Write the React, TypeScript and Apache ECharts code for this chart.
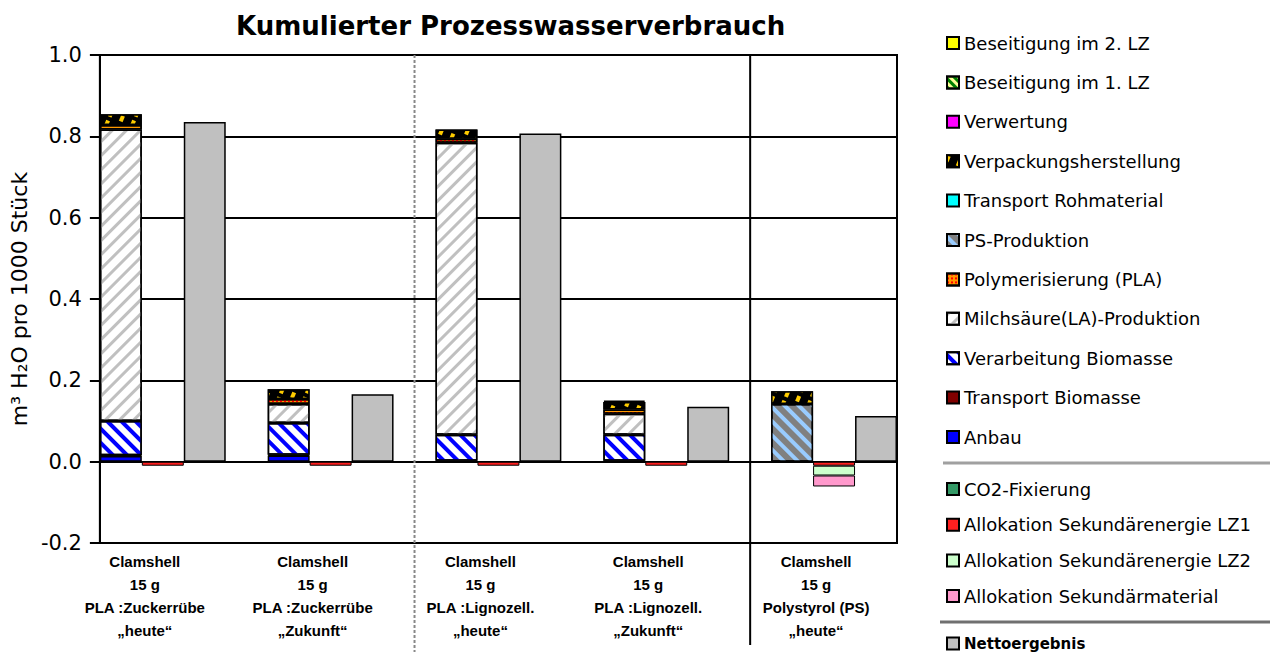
import React, { useEffect, useRef } from 'react';
import * as echarts from 'echarts';

// ---------- data ----------
const groupLabels = [
  'Clamshell\n15 g\nPLA :Zuckerrübe\n„heute“',
  'Clamshell\n15 g\nPLA :Zuckerrübe\n„Zukunft“',
  'Clamshell\n15 g\nPLA :Lignozell.\n„heute“',
  'Clamshell\n15 g\nPLA :Lignozell.\n„Zukunft“',
  'Clamshell\n15 g\nPolystyrol (PS)\n„heute“',
];

// positive contributions (stack order bottom -> top)
const anbau = [0.014, 0.015, 0, 0, 0];
const transportBiomasse = [0.002, 0.002, 0.002, 0.002, 0];
const verarbeitungBiomasse = [0.084, 0.078, 0.064, 0.064, 0];
const milchsaeure = [0.717, 0.047, 0.718, 0.052, 0];
const polymerisierung = [0.011, 0.012, 0.010, 0.010, 0];
const psProduktion = [0, 0, 0, 0, 0.142];
const transportRohmaterial = [0, 0, 0, 0, 0];
const verpackung = [0.026, 0.024, 0.023, 0.019, 0.031];
const verwertung = [0, 0, 0, 0.003, 0];
const beseitigung1 = [0, 0, 0, 0, 0];
const beseitigung2 = [0, 0, 0, 0, 0];

// credits (negative)
const co2Fixierung = [0, 0, 0, 0, 0];
const allokEnergieLZ1 = [-0.01, -0.01, -0.01, -0.01, -0.01];
const allokEnergieLZ2 = [0, 0, 0, 0, -0.024];
const allokMaterial = [0, 0, 0, 0, -0.027];

// net result
const netto = [0.835, 0.166, 0.807, 0.135, 0.112];

// ---------- helpers ----------
const SLOTS_PER_GROUP = 4; // stacked, credits, net, gap
const slotNames: string[] = [];
groupLabels.forEach((_, g) => {
  slotNames.push(`g${g}a`, `g${g}b`, `g${g}c`);
  if (g < groupLabels.length - 1) slotNames.push(`gap${g}`);
});

const toSlots = (values: number[], k: number) => {
  const arr: (number | null)[] = slotNames.map(() => null);
  values.forEach((v, g) => {
    arr[g * SLOTS_PER_GROUP + k] = v === 0 ? null : v;
  });
  return arr;
};

const stripe = (color: string, rotation: number, w: number, gap: number) => ({
  symbol: 'rect',
  symbolSize: 1,
  color,
  dashArrayX: [1, 0],
  dashArrayY: [w, gap],
  rotation,
});

const FONT = "'DejaVu Sans', Arial, sans-serif";
const LABEL_FONT = "'Liberation Sans Narrow', 'Arial Narrow', 'Liberation Sans', Arial, sans-serif";

type Def = {
  name: string;
  values: number[];
  slot: number;
  color: string;
  decal?: any;
};

const defs: Def[] = [
  { name: 'Anbau', values: anbau, slot: 0, color: '#0000ff' },
  { name: 'Transport Biomasse', values: transportBiomasse, slot: 0, color: '#800000' },
  { name: 'Verarbeitung Biomasse', values: verarbeitungBiomasse, slot: 0, color: '#ffffff', decal: stripe('#0000ff', Math.PI / 4, 3.5, 6) },
  { name: 'Milchsäure(LA)-Produktion', values: milchsaeure, slot: 0, color: '#ffffff', decal: stripe('#c0c0c0', -Math.PI / 4, 3, 7) },
  { name: 'Polymerisierung (PLA)', values: polymerisierung, slot: 0, color: '#ff9900', decal: { symbol: 'rect', symbolSize: 1, color: '#ff0000', dashArrayX: [2, 2], dashArrayY: [2, 2], rotation: 0 } },
  { name: 'PS-Produktion', values: psProduktion, slot: 0, color: '#808080', decal: stripe('#99ccff', Math.PI / 4, 4, 6) },
  { name: 'Transport Rohmaterial', values: transportRohmaterial, slot: 0, color: '#00ffff' },
  { name: 'Verpackungsherstellung', values: verpackung, slot: 0, color: '#000000', decal: { symbol: 'rect', symbolSize: 1, color: '#ffcc00', dashArrayX: [4, 8], dashArrayY: [6, 4], rotation: Math.PI / 8 } },
  { name: 'Verwertung', values: verwertung, slot: 0, color: '#ff00ff' },
  { name: 'Beseitigung im 1. LZ', values: beseitigung1, slot: 0, color: '#ffff99', decal: stripe('#008000', Math.PI / 4, 3, 3) },
  { name: 'Beseitigung im 2. LZ', values: beseitigung2, slot: 0, color: '#ffff00' },
  { name: 'CO2-Fixierung', values: co2Fixierung, slot: 1, color: '#339966' },
  { name: 'Allokation Sekundärenergie LZ1', values: allokEnergieLZ1, slot: 1, color: '#ff2020' },
  { name: 'Allokation Sekundärenergie LZ2', values: allokEnergieLZ2, slot: 1, color: '#ccffcc' },
  { name: 'Allokation Sekundärmaterial', values: allokMaterial, slot: 1, color: '#ff99cc' },
  { name: 'Nettoergebnis', values: netto, slot: 2, color: '#c0c0c0' },
];

const legendTop = [
  'Beseitigung im 2. LZ',
  'Beseitigung im 1. LZ',
  'Verwertung',
  'Verpackungsherstellung',
  'Transport Rohmaterial',
  'PS-Produktion',
  'Polymerisierung (PLA)',
  'Milchsäure(LA)-Produktion',
  'Verarbeitung Biomasse',
  'Transport Biomasse',
  'Anbau',
];
const legendCredits = [
  'CO2-Fixierung',
  'Allokation Sekundärenergie LZ1',
  'Allokation Sekundärenergie LZ2',
  'Allokation Sekundärmaterial',
];

export default function App() {
  const ref = useRef<HTMLDivElement>(null);
  useEffect(() => {
    const chart = echarts.init(ref.current!, null, { renderer: 'svg' });
    const series = defs.map((d) => ({
      name: d.name,
      type: 'bar',
      stack: 'all',
      barWidth: '100%',
      barGap: '0%',
      data: toSlots(d.values, d.slot),
      itemStyle: {
        color: d.color,
        borderColor: '#000',
        borderWidth: d.slot === 1 ? 1 : 1.5,
        ...(d.decal ? { decal: d.decal } : {}),
      },
      emphasis: { disabled: true },
    }));
    const legendBase = {
      orient: 'vertical',
      left: 941,
      itemWidth: 12,
      itemHeight: 12,
      icon: 'rect',
      selectedMode: false,
      textStyle: { fontFamily: FONT, fontSize: 18, color: '#000' },
    };
    const option: any = {
      animation: false,
      backgroundColor: '#fff',
      title: {
        text: 'Kumulierter Prozesswasserverbrauch',
        left: 231,
        top: 8,
        textStyle: { fontFamily: FONT, fontSize: 26, fontWeight: 'bold', color: '#000' },
      },
      grid: {
        left: 96,
        right: 375,
        top: 55,
        bottom: 109,
        show: true,
        borderColor: '#000',
        borderWidth: 2,
        backgroundColor: 'transparent',
      },
      xAxis: {
        type: 'category',
        data: slotNames,
        axisLine: { show: false, onZero: false },
        axisTick: { show: false },
        axisLabel: {
          interval: 0,
          formatter: (_: string, idx: number) =>
            idx % SLOTS_PER_GROUP === 1 ? groupLabels[Math.floor(idx / SLOTS_PER_GROUP)] : '',
          fontFamily: LABEL_FONT,
          fontWeight: 'bold',
          fontSize: 15,
          lineHeight: 23,
          color: '#000',
          margin: 7,
          padding: [0, 36, 0, 0],
        },
        splitLine: { show: false },
      },
      yAxis: {
        type: 'value',
        min: -0.2,
        max: 1.0,
        interval: 0.2,
        name: 'm³ H₂O pro 1000 Stück',
        nameLocation: 'middle',
        nameRotate: 90,
        nameGap: 60,
        nameTextStyle: { fontFamily: FONT, fontSize: 22, color: '#000' },
        axisLine: { show: true, lineStyle: { color: '#000', width: 2 } },
        axisTick: { show: true, inside: false, length: 10, lineStyle: { color: '#000', width: 2 } },
        axisLabel: {
          formatter: (v: number) => v.toFixed(1),
          fontFamily: FONT,
          fontSize: 21,
          color: '#000',
          margin: 18,
        },
        splitLine: { show: true, lineStyle: { color: '#000', width: 2 } },
      },
      legend: [
        { ...legendBase, top: 29, itemGap: 21.4, data: legendTop },
        { ...legendBase, top: 475, itemGap: 17.7, data: legendCredits },
        {
          ...legendBase,
          top: 631,
          data: ['Nettoergebnis'],
          textStyle: { fontFamily: FONT, fontSize: 15, fontWeight: 'bold', color: '#000' },
        },
      ],
      series,
    };
    chart.setOption(option);

    const xA = chart.convertToPixel({ xAxisIndex: 0 }, slotNames[7]) as number;
    const xB = chart.convertToPixel({ xAxisIndex: 0 }, slotNames[15]) as number;
    const yTop = chart.convertToPixel({ yAxisIndex: 0 }, 1.0) as number;
    chart.setOption({
      graphic: [
        {
          type: 'line',
          shape: { x1: xA, y1: yTop, x2: xA, y2: 652 },
          style: { stroke: '#888', lineWidth: 2, lineDash: [3, 2] },
          z: 10,
        },
        {
          type: 'line',
          shape: { x1: xB, y1: yTop, x2: xB, y2: 645 },
          style: { stroke: '#000', lineWidth: 2 },
          z: 10,
        },
        {
          type: 'line',
          shape: { x1: 943, y1: 463, x2: 1270, y2: 463 },
          style: { stroke: '#a0a0a0', lineWidth: 3 },
        },
        {
          type: 'line',
          shape: { x1: 940, y1: 622, x2: 1270, y2: 622 },
          style: { stroke: '#707070', lineWidth: 3 },
        },
      ],
    });
    return () => chart.dispose();
  }, []);
  return (
    <div
      ref={ref}
      style={{ position: 'fixed', left: 0, top: 0, width: 1272, height: 652, background: '#fff' }}
    />
  );
}
